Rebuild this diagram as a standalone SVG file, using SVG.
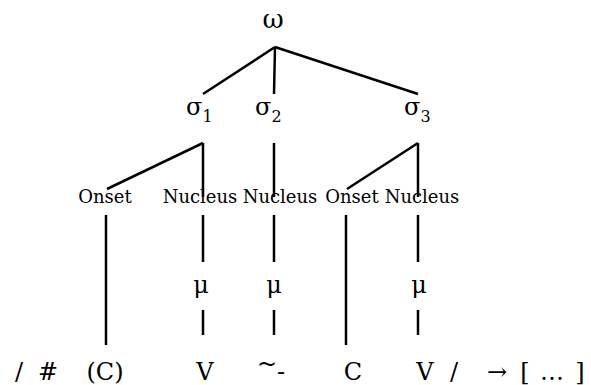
<svg xmlns="http://www.w3.org/2000/svg" width="591" height="385" viewBox="0 0 591 385">
<style>
text{font-family:"DejaVu Serif","Liberation Serif",serif;fill:#000;text-anchor:middle}
.om{font-size:26px}
.sg{font-size:24px;text-anchor:start}
.sub{font-size:16px}
.lab{font-size:18px}
.mu{font-size:24px}
.row{font-size:24px}
line{stroke:#000;stroke-width:2.5;stroke-linecap:butt}
</style>
<rect width="591" height="385" fill="#fff"/>
<g id="connectors">
<line x1="275" y1="47" x2="203" y2="94"/>
<line x1="275" y1="47" x2="274" y2="94"/>
<line x1="275" y1="47" x2="418" y2="94"/>
<line x1="203" y1="143" x2="107" y2="189"/>
<line x1="203" y1="143" x2="203" y2="197"/>
<line x1="274" y1="143" x2="274" y2="197"/>
<line x1="418" y1="143" x2="347" y2="189"/>
<line x1="418" y1="143" x2="418" y2="197"/>
<line x1="106" y1="215" x2="106" y2="345"/>
<line x1="203" y1="215" x2="203" y2="262"/>
<line x1="203" y1="310" x2="203" y2="335"/>
<line x1="274" y1="215" x2="274" y2="262"/>
<line x1="274" y1="310" x2="274" y2="335"/>
<line x1="346" y1="215" x2="346" y2="345"/>
<line x1="418" y1="215" x2="418" y2="262"/>
<line x1="418" y1="310" x2="418" y2="335"/>
</g>
<g id="omega"><text class="om" x="273" y="28">ω</text></g>
<g id="sigma1"><text class="sg" x="186" y="115">σ<tspan class="sub" dy="7">1</tspan></text></g>
<g id="sigma2"><text class="sg" x="255" y="115">σ<tspan class="sub" dy="7">2</tspan></text></g>
<g id="sigma3"><text class="sg" x="404" y="115">σ<tspan class="sub" dy="7">3</tspan></text></g>
<g id="onset1"><text class="lab" x="105" y="203">Onset</text></g>
<g id="nucleus1"><text class="lab" x="200" y="203">Nucleus</text></g>
<g id="nucleus2"><text class="lab" x="280" y="203">Nucleus</text></g>
<g id="onset2"><text class="lab" x="352" y="203">Onset</text></g>
<g id="nucleus3"><text class="lab" x="422" y="203">Nucleus</text></g>
<g id="mu1"><text class="mu" x="201" y="293">μ</text></g>
<g id="mu2"><text class="mu" x="274" y="293">μ</text></g>
<g id="mu3"><text class="mu" x="419" y="293">μ</text></g>
<g id="segments">
<text class="row" x="19" y="380">/</text>
<text class="row" x="48" y="380">#</text>
<text class="row" x="105" y="380">(C)</text>
<text class="row" x="205" y="380">V</text>
<text class="row" x="267" y="372">~</text>
<text class="row" x="281" y="380">-</text>
<text style="font-size:14px" x="272" y="392">ˌ</text>
<text class="row" x="353" y="380">C</text>
<text class="row" x="425" y="380">V</text>
<text class="row" x="454" y="380">/</text>
<text class="row" x="497" y="380">→</text>
<text class="row" x="525" y="380">[</text>
<text class="row" x="552" y="380">…</text>
<text class="row" x="580" y="380">]</text>
</g>
</svg>
